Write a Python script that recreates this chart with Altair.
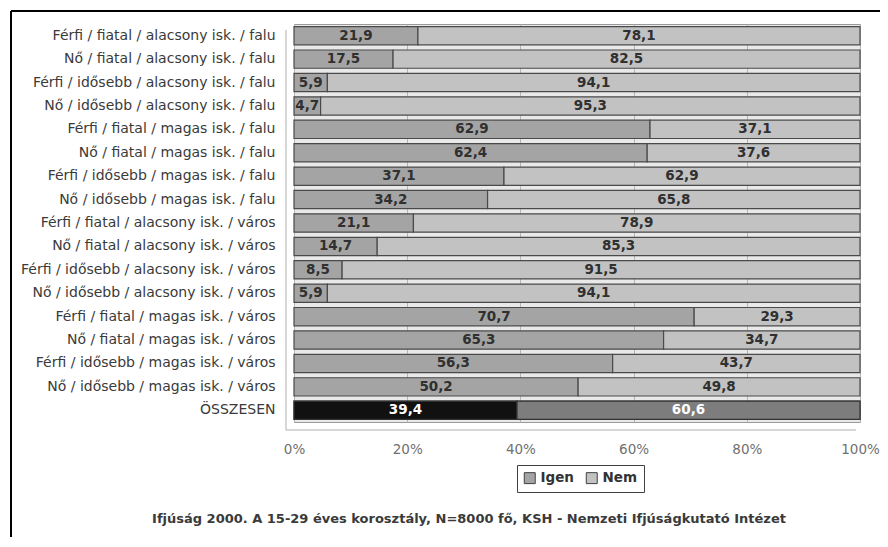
import altair as alt
import pandas as pd

categories = [
    "Férfi / fiatal / alacsony isk. / falu",
    "Nő / fiatal / alacsony isk. / falu",
    "Férfi / idősebb / alacsony isk. / falu",
    "Nő / idősebb / alacsony isk. / falu",
    "Férfi / fiatal / magas isk. / falu",
    "Nő / fiatal / magas isk. / falu",
    "Férfi / idősebb / magas isk. / falu",
    "Nő / idősebb / magas isk. / falu",
    "Férfi / fiatal / alacsony isk. / város",
    "Nő / fiatal / alacsony isk. / város",
    "Férfi / idősebb / alacsony isk. / város",
    "Nő / idősebb / alacsony isk. / város",
    "Férfi / fiatal / magas isk. / város",
    "Nő / fiatal / magas isk. / város",
    "Férfi / idősebb / magas isk. / város",
    "Nő / idősebb / magas isk. / város",
    "ÖSSZESEN",
]
igen = [21.9, 17.5, 5.9, 4.7, 62.9, 62.4, 37.1, 34.2, 21.1, 14.7, 8.5, 5.9, 70.7, 65.3, 56.3, 50.2, 39.4]
nem = [78.1, 82.5, 94.1, 95.3, 37.1, 37.6, 62.9, 65.8, 78.9, 85.3, 91.5, 94.1, 29.3, 34.7, 43.7, 49.8, 60.6]
series = ["Igen", "Nem"]
x_ticks = [0, 20, 40, 60, 80, 100]
total_label = "ÖSSZESEN"
footer = "Ifjúság 2000. A 15-29 éves korosztály, N=8000 fő, KSH - Nemzeti Ifjúságkutató Intézet"

rows = []
for c, a, b in zip(categories, igen, nem):
    for k, (s, v) in enumerate(zip(series, (a, b))):
        rows.append({
            "cat": c, "series": s, "value": v, "order": k,
            "label": f"{v:.1f}".replace(".", ","),
            "total": c == total_label,
        })
df = pd.DataFrame(rows)

FONT = "DejaVu Sans"
W, H = 566, 398
PAD_L, PAD_T = 286, 16

y_enc = alt.Y(
    "cat:N", sort=categories, title=None,
    scale=alt.Scale(paddingInner=0.22, paddingOuter=0.11),
    axis=alt.Axis(domain=False, ticks=False, labelFont=FONT, labelFontSize=14,
                  labelColor="#3a3a3a", labelPadding=19, labelLimit=300),
)
x_enc = alt.X(
    "value:Q", stack="zero", title=None,
    scale=alt.Scale(domain=[0, 100], nice=False),
    axis=alt.Axis(values=x_ticks, labelExpr="datum.value + '%'", domain=False, ticks=False,
                  grid=True, gridColor="#b5b5b5", gridWidth=1, labelFont=FONT,
                  labelFontSize=13.5, labelColor="#707070", labelPadding=20,
                  labelFlush=False),
)

base = alt.Chart(df)

bars = base.mark_bar(stroke="#4a4a4a", strokeWidth=1.2).encode(
    y=y_enc, x=x_enc,
    color=alt.Color(
        "series:N", scale=alt.Scale(domain=series, range=["#a4a4a4", "#c2c2c2"]),
        legend=alt.Legend(
            title=None, orient="none", legendX=223, legendY=441, direction="horizontal",
            strokeColor="#404040", fillColor="white", padding=6, symbolType="square",
            symbolSize=120, symbolStrokeColor="#404040", symbolStrokeWidth=1,
            labelFont=FONT, labelFontSize=13.5, labelFontWeight="bold", labelColor="#333",
            columnPadding=10,
        ),
    ),
    order=alt.Order("order:Q"),
)

total_bars = base.transform_filter("datum.total").mark_bar(stroke="#333333", strokeWidth=1.2).encode(
    y=alt.Y("cat:N", sort=categories), x=alt.X("value:Q", stack="zero"),
    fill=alt.Fill("series:N", scale=alt.Scale(domain=series, range=["#111111", "#7d7d7d"]), legend=None),
    order=alt.Order("order:Q"),
)

labels = base.transform_stack(
    stack="value", groupby=["cat"], sort=[alt.SortField("order")], as_=["x0", "x1"]
).transform_calculate(mid="(datum.x0 + datum.x1) / 2").mark_text(
    font=FONT, fontSize=13.5, fontWeight="bold", baseline="middle", align="center"
).encode(
    y=alt.Y("cat:N", sort=categories),
    x=alt.X("mid:Q"),
    text="label:N",
    color=alt.condition("datum.total", alt.value("#ffffff"), alt.value("#303030")),
)

one = alt.Chart(pd.DataFrame({"k": [0]}))
frame_top = one.mark_rule(color="#000000", strokeWidth=2).encode(
    x=alt.value(11 - 8 - PAD_L), x2=alt.value(W + 40), y=alt.value(11 - 8 - PAD_T))
frame_left = one.mark_rule(color="#000000", strokeWidth=2).encode(
    x=alt.value(11 - 8 - PAD_L), y=alt.value(11 - 8 - PAD_T), y2=alt.value(520))
wall = one.mark_rule(color="#b0b0b0", strokeWidth=1).encode(
    x=alt.value(-8), y=alt.value(6), y2=alt.value(H + 8))
floor = one.mark_rule(color="#b0b0b0", strokeWidth=1).encode(
    x=alt.value(-8), x2=alt.value(W - 4), y=alt.value(H + 8))
foot = one.mark_text(font=FONT, fontSize=13, fontWeight="bold", color="#3a3a3a").encode(
    x=alt.value(175), y=alt.value(495), text=alt.value(footer))

chart = alt.layer(wall, floor, bars, total_bars, labels, frame_top, frame_left, foot).resolve_scale(
    color="independent"
).properties(
    width=W, height=H,
    padding={"left": PAD_L, "top": PAD_T, "right": 20, "bottom": 115},
    autosize=alt.AutoSizeParams(type="none"),
).configure_view(stroke="#9a9a9a", fill="#e9e9e9")

chart.save("out.html", embed_options={"renderer": "svg", "actions": False})
